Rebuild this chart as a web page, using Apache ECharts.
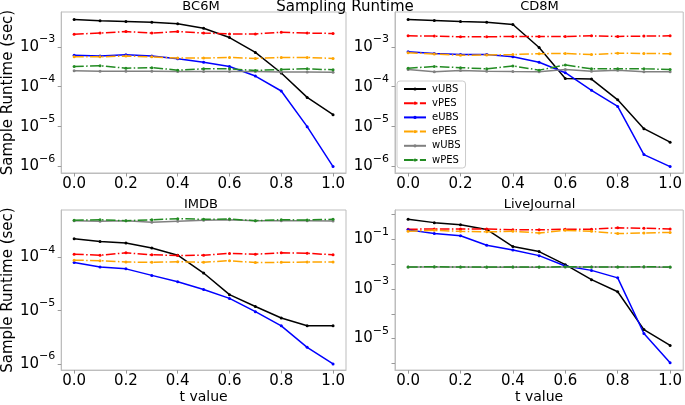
<!DOCTYPE html>
<html>
<head>
<meta charset="utf-8">
<script src="https://cdn.jsdelivr.net/npm/echarts@6/dist/echarts.min.js"></script>
<style>
html,body{margin:0;padding:0;background:#fff;}
#chart{width:685px;height:405px;}
</style>
</head>
<body>
<div id="chart"></div>
<script>
// ---------- data ----------
const tValues = ['0.0','0.1','0.2','0.3','0.4','0.5','0.6','0.7','0.8','0.9','1.0'];
const seriesNames = ['vUBS','vPES','eUBS','ePES','wUBS','wPES'];
const panelTitles = ['BC6M','CD8M','IMDB','LiveJournal'];

// BC6M
const bc_vUBS = [4.8e-3, 4.5e-3, 4.3e-3, 4.1e-3, 3.75e-3, 2.9e-3, 1.7e-3, 7.2e-4, 2.2e-4, 5.4e-5, 2.0e-5];
const bc_vPES = [2.07e-3, 2.2e-3, 2.4e-3, 2.2e-3, 2.4e-3, 2.2e-3, 2.1e-3, 2.1e-3, 2.3e-3, 2.2e-3, 2.15e-3];
const bc_eUBS = [6.1e-4, 5.85e-4, 6.3e-4, 5.85e-4, 5.0e-4, 4.1e-4, 3.2e-4, 1.85e-4, 7.8e-5, 1.0e-5, 1.0e-6];
const bc_ePES = [5.6e-4, 5.6e-4, 5.85e-4, 5.6e-4, 5.2e-4, 5.2e-4, 5.4e-4, 5.1e-4, 5.4e-4, 5.4e-4, 5.1e-4];
const bc_wUBS = [2.5e-4, 2.45e-4, 2.45e-4, 2.45e-4, 2.4e-4, 2.4e-4, 2.4e-4, 2.4e-4, 2.35e-4, 2.35e-4, 2.3e-4];
const bc_wPES = [3.2e-4, 3.35e-4, 2.9e-4, 3.0e-4, 2.6e-4, 2.8e-4, 2.8e-4, 2.55e-4, 2.7e-4, 2.8e-4, 2.65e-4];

// CD8M
const cd_vUBS = [4.8e-3, 4.55e-3, 4.3e-3, 4.1e-3, 3.6e-3, 9.6e-4, 1.6e-4, 1.55e-4, 4.7e-5, 8.9e-6, 4.1e-6];
const cd_vPES = [1.88e-3, 1.85e-3, 1.78e-3, 1.78e-3, 1.81e-3, 1.81e-3, 1.81e-3, 1.88e-3, 1.81e-3, 1.85e-3, 1.88e-3];
const cd_eUBS = [7.5e-4, 6.8e-4, 6.4e-4, 6.4e-4, 5.6e-4, 4.1e-4, 2.24e-4, 8.1e-5, 3.2e-5, 2.0e-6, 1.0e-6];
const cd_ePES = [7.1e-4, 6.6e-4, 6.1e-4, 6.2e-4, 6.4e-4, 6.7e-4, 6.8e-4, 6.4e-4, 6.9e-4, 6.8e-4, 6.7e-4];
const cd_wUBS = [2.7e-4, 2.37e-4, 2.55e-4, 2.45e-4, 2.4e-4, 2.37e-4, 2.7e-4, 2.45e-4, 2.6e-4, 2.37e-4, 2.37e-4];
const cd_wPES = [2.9e-4, 3.2e-4, 3.0e-4, 2.8e-4, 3.3e-4, 2.6e-4, 3.5e-4, 2.8e-4, 2.8e-4, 2.8e-4, 2.7e-4];

// IMDB
const im_vUBS = [2.25e-4, 2.0e-4, 1.87e-4, 1.5e-4, 1.1e-4, 5.1e-5, 2.0e-5, 1.2e-5, 7.3e-6, 5.2e-6, 5.2e-6];
const im_vPES = [1.15e-4, 1.1e-4, 1.22e-4, 1.12e-4, 1.09e-4, 1.1e-4, 1.19e-4, 1.15e-4, 1.22e-4, 1.2e-4, 1.12e-4];
const im_eUBS = [8.0e-5, 6.6e-5, 6.1e-5, 4.6e-5, 3.5e-5, 2.5e-5, 1.7e-5, 9.6e-6, 5.2e-6, 2.05e-6, 1.0e-6];
const im_ePES = [8.9e-5, 8.7e-5, 8.2e-5, 8.1e-5, 8.3e-5, 8.1e-5, 8.7e-5, 8.0e-5, 8.1e-5, 8.2e-5, 8.2e-5];
const im_wUBS = [4.9e-4, 4.8e-4, 4.9e-4, 4.6e-4, 4.8e-4, 5.0e-4, 5.1e-4, 4.9e-4, 4.9e-4, 4.9e-4, 4.85e-4];
const im_wPES = [5.0e-4, 5.1e-4, 4.9e-4, 5.1e-4, 5.35e-4, 5.2e-4, 5.25e-4, 4.9e-4, 5.1e-4, 5.05e-4, 5.2e-4];

// LiveJournal
const lj_vUBS = [0.65, 0.47, 0.39, 0.25, 0.051, 0.032, 9.5e-3, 2.36e-3, 7.7e-4, 2.3e-5, 5.3e-6];
const lj_vPES = [0.255, 0.26, 0.26, 0.26, 0.24, 0.24, 0.255, 0.255, 0.29, 0.28, 0.26];
const lj_eUBS = [0.24, 0.17, 0.14, 0.058, 0.037, 0.022, 8.4e-3, 5.6e-3, 2.8e-3, 1.6e-5, 1.05e-6];
const lj_ePES = [0.21, 0.23, 0.21, 0.2, 0.21, 0.18, 0.23, 0.21, 0.17, 0.18, 0.19];
const lj_wUBS = [7.6e-3, 7.6e-3, 7.6e-3, 7.5e-3, 7.6e-3, 7.5e-3, 7.6e-3, 7.6e-3, 7.6e-3, 7.6e-3, 7.5e-3];
const lj_wPES = [7.7e-3, 7.8e-3, 7.7e-3, 7.7e-3, 7.7e-3, 7.7e-3, 7.8e-3, 7.7e-3, 7.7e-3, 7.8e-3, 7.7e-3];

const panelData = [
  [bc_vUBS, bc_vPES, bc_eUBS, bc_ePES, bc_wUBS, bc_wPES],
  [cd_vUBS, cd_vPES, cd_eUBS, cd_ePES, cd_wUBS, cd_wPES],
  [im_vUBS, im_vPES, im_eUBS, im_ePES, im_wUBS, im_wPES],
  [lj_vUBS, lj_vPES, lj_eUBS, lj_ePES, lj_wUBS, lj_wPES]
];

// ---------- styles / layout ----------
const FONT = 'DejaVu Sans';
const DASHDOT = [9.6, 2.4, 1.5, 2.4];
const styles = [
  {color: '#000000', dash: 'solid'},
  {color: '#ff0000', dash: DASHDOT},
  {color: '#0000ff', dash: 'solid'},
  {color: '#ffa500', dash: DASHDOT},
  {color: '#808080', dash: 'solid'},
  {color: '#228b22', dash: DASHDOT}
];
const grids = [
  {left: 56, top: 12, width: 290, height: 161},
  {left: 395, top: 12, width: 289, height: 161},
  {left: 56, top: 210, width: 290, height: 163},
  {left: 395, top: 210, width: 289, height: 164}
];
const yExp = [[-6.16, -2.13], [-6.16, -2.13], [-6.116, -3.109], [-6.27, 0.181]];
const FRAME = '#bdbdbd';

function makeLabelFormatter(oddOnly) {
  return function (v) {
    const e = Math.log10(v);
    const r = Math.round(e);
    if (Math.abs(e - r) > 1e-3) return '';
    if (oddOnly && Math.abs(r) % 2 === 0) return '';
    return '{b|10}{s|' + (r < 0 ? '\u2212' : '') + Math.abs(r) + '}';
  };
}

const option = {
  backgroundColor: '#ffffff',
  animation: false,
  textStyle: {fontFamily: FONT},
  title: [
    {text: 'Sampling Runtime', left: 345, top: 0, textAlign: 'center', padding: 0,
     textStyle: {fontFamily: FONT, fontSize: 15, fontWeight: 'normal', color: '#000'}}
  ].concat(panelTitles.map((t, i) => ({
    text: t, left: grids[i].left + grids[i].width / 2, top: grids[i].top - 12, textAlign: 'center', padding: 0,
    textStyle: {fontFamily: FONT, fontSize: 13, fontWeight: 'normal', color: '#000'}
  }))),
  legend: {
    data: seriesNames,
    orient: 'vertical',
    left: 397, top: 81,
    itemWidth: 22, itemHeight: 4, itemGap: 4.2,
    padding: [3, 5, 3, 6],
    borderColor: '#cccccc', borderWidth: 1, borderRadius: 3,
    backgroundColor: 'rgba(255,255,255,0.8)',
    textStyle: {fontFamily: FONT, fontSize: 10, color: '#000', padding: [0, 0, 0, 1]}
  },
  grid: grids.map(g => Object.assign({show: true, borderColor: FRAME, borderWidth: 1, backgroundColor: 'transparent'}, g)),
  xAxis: grids.map((g, i) => ({
    type: 'category', gridIndex: i, data: tValues, boundaryGap: true,
    name: i >= 2 ? 't value' : '', nameLocation: 'middle', nameGap: 18,
    nameTextStyle: {fontFamily: FONT, fontSize: 14, color: '#000'},
    axisLine: {show: true, lineStyle: {color: FRAME}},
    axisTick: {show: true, alignWithLabel: true, interval: 1, length: 3.5, lineStyle: {color: '#999'}},
    axisLabel: {interval: 1, fontFamily: FONT, fontSize: 15, color: '#000', margin: 4},
    splitLine: {show: false}
  })),
  yAxis: grids.map((g, i) => ({
    type: 'log', gridIndex: i, logBase: 10,
    min: Math.pow(10, yExp[i][0]), max: Math.pow(10, yExp[i][1]),
    name: (i % 2 === 0) ? 'Sample Runtime (sec)' : '', nameLocation: 'middle', nameGap: 40,
    nameTextStyle: {fontFamily: FONT, fontSize: 15, color: '#000'},
    axisLine: {show: true, lineStyle: {color: FRAME}},
    axisTick: {show: true, length: 3.5, lineStyle: {color: '#999'}},
    axisLabel: {
      formatter: makeLabelFormatter(i === 3), margin: 6, color: '#000',
      showMinLabel: false, showMaxLabel: false,
      rich: {
        b: {fontFamily: FONT, fontSize: 15, color: '#000'},
        s: {fontFamily: FONT, fontSize: 11, color: '#000', padding: [0, 0, 15, 0]}
      }
    },
    splitLine: {show: false},
    minorTick: {show: false}
  })),
  series: []
};

panelData.forEach((arrs, p) => {
  arrs.forEach((vals, k) => {
    option.series.push({
      type: 'line', name: seriesNames[k], xAxisIndex: p, yAxisIndex: p,
      data: vals,
      symbol: 'circle', symbolSize: 3, showSymbol: true,
      itemStyle: {color: styles[k].color},
      lineStyle: {color: styles[k].color, width: 1.5, type: styles[k].dash},
      emphasis: {disabled: true}
    });
  });
});

const chart = echarts.init(document.getElementById('chart'), null, {renderer: 'canvas'});
chart.setOption(option);
</script>
</body>
</html>
